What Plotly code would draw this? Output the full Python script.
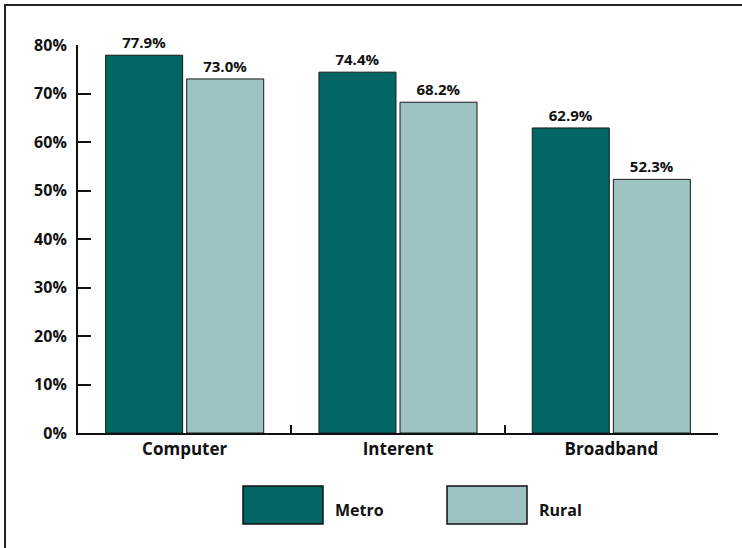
import plotly.graph_objects as go

categories = ["Computer", "Interent", "Broadband"]
metro = [77.9, 74.4, 62.9]
rural = [73.0, 68.2, 52.3]
y_ticks = [0, 10, 20, 30, 40, 50, 60, 70, 80]
y_tick_labels = [f"{v}%" for v in y_ticks]

METRO_COLOR = "#026664"
RURAL_COLOR = "#9cc3c2"
FONT = "Open Sans"

fig = go.Figure()
for name, vals, color in [("Metro", metro, METRO_COLOR), ("Rural", rural, RURAL_COLOR)]:
    fig.add_trace(go.Bar(
        x=categories, y=vals, name=name,
        marker=dict(color=color, line=dict(color="#1a1a1a", width=1)),
        texttemplate="%{y:.1f}%", textposition="outside",
        textfont=dict(family=FONT, size=15, color="#111", weight="bold"),
        cliponaxis=False,
    ))

fig.update_layout(
    width=742, height=548,
    margin=dict(l=78, r=24, t=45, b=115),
    paper_bgcolor="white", plot_bgcolor="white",
    barmode="group", bargap=0.24, bargroupgap=0.05,
    showlegend=False,
    font=dict(family=FONT, color="#111"),
)
fig.update_yaxes(
    range=[0, 80], tickvals=y_ticks, ticktext=y_tick_labels,
    showgrid=False, zeroline=False,
    showline=True, linecolor="#111", linewidth=2,
    ticks="inside", ticklen=13, tickwidth=2, tickcolor="#111",
    ticklabelstandoff=6,
    tickfont=dict(family=FONT, size=16, color="#111", weight="bold"),
)
fig.update_xaxes(
    showgrid=False, showline=True, linecolor="#111", linewidth=2,
    ticks="inside", tickson="boundaries", ticklen=8, tickwidth=2, tickcolor="#111",
    tickfont=dict(family=FONT, size=17, color="#111", weight="bold"),
)

# outer frame
fig.add_shape(type="rect", xref="paper", yref="paper",
              x0=-0.114, x1=1.1, y0=-0.35, y1=1.103,
              line=dict(color="#222", width=2), fillcolor="rgba(0,0,0,0)", layer="below")

# legend swatches and labels
legend_items = [("Metro", METRO_COLOR, 0.2578, 0.3828), ("Rural", RURAL_COLOR, 0.5766, 0.7016)]
for name, color, x0, x1 in legend_items:
    fig.add_shape(type="rect", xref="paper", yref="paper",
                  x0=x0, x1=x1, y0=-0.2345, y1=-0.1366,
                  line=dict(color="#111", width=1.5), fillcolor=color)
    fig.add_annotation(xref="paper", yref="paper", x=x1 + 0.0156, y=-0.1985,
                       text=name, showarrow=False, xanchor="left", yanchor="middle",
                       font=dict(family=FONT, size=16, color="#111", weight="bold"))

fig.write_html("out.html")
